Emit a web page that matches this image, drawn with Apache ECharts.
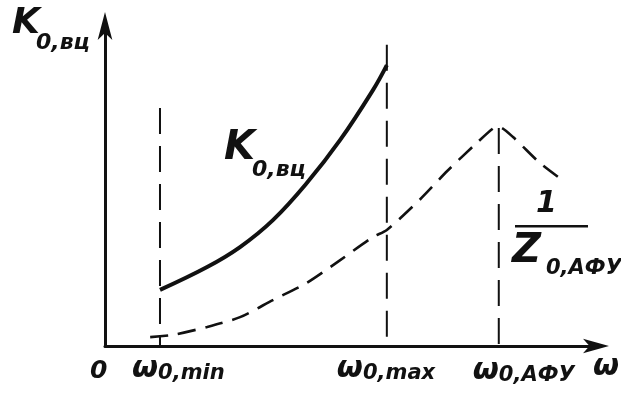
<!DOCTYPE html>
<html>
<head>
<meta charset="utf-8">
<script src="https://cdn.jsdelivr.net/npm/echarts@6/dist/echarts.min.js"></script>
<style>
  html, body { margin: 0; padding: 0; background: #fff; }
  #chart { width: 621px; height: 396px; }
</style>
</head>
<body>
<div id="chart"></div>
<script>
// abscissa positions of the marked frequencies (0..100 scale)
const tickValues = [0, 11.2, 57.4, 80.2, 100]
const tickMain = ['0', 'ω', 'ω', 'ω', 'ω']
const tickSub = ['', '0,min', '0,max', '0,АФУ', '']

// K0,вц — solid curve between ω0,min and ω0,max
const kX = [11.2, 20.8, 27.5, 34.2, 41.1, 47.9, 54.6, 57.4]
const kY = [17.7, 24.9, 31.2, 39.7, 51.4, 65.0, 80.8, 88.6]

// 1 / Z0,АФУ — dashed curve with its peak at ω0,АФУ
const zX = [9.2, 13.8, 20.8, 27.5, 34.2, 41.1, 47.9, 54.6, 57.4, 64.2, 69.7, 75.4, 79.0, 80.2, 83.1, 88.6, 93.7]
const zY = [2.8, 3.5, 6.0, 9.1, 14.5, 19.9, 27.1, 34.4, 36.6, 46.3, 55.2, 63.6, 68.6, 69.1, 65.9, 57.7, 51.7]

// heights of the dashed verticals at ω0,min, ω0,max, ω0,АФУ
const vlineX = [11.2, 57.4, 80.2]
const vlineTop = [75.1, 95.0, 68.8]

const INK = '#111'
const FONT = '"DejaVu Sans"'
const tickDx = [-15, -28, -50, -26, -3]
const tickDy = [12, 8, 8, 10, 6]

const chart = echarts.init(document.getElementById('chart'))

// drawn top-down so the dash pattern starts at the top end
const vlines = vlineX.map((x, i) => ({
  type: 'line',
  data: [[x, vlineTop[i]], [x, 0]],
  symbol: 'none',
  silent: true,
  lineStyle: { color: INK, width: 2, type: [26, 12] },
}))

function fontOf(size) {
  return 'italic bold ' + size + 'px ' + FONT
}

const richBase = { fontFamily: FONT, fontStyle: 'italic', fontWeight: 'bold', color: INK }

chart.setOption({
  animation: false,
  backgroundColor: '#fff',
  grid: { left: 105, right: 25, top: 29, bottom: 50 },
  xAxis: {
    type: 'value', min: 0, max: 100,
    axisLine: { lineStyle: { color: INK, width: 3 }, symbol: ['none', 'arrow'], symbolSize: [11, 26], symbolOffset: [0, 13] },
    axisTick: { show: false }, axisLabel: { show: false }, splitLine: { show: false },
  },
  yAxis: {
    type: 'value', min: 0, max: 100,
    axisLine: { lineStyle: { color: INK, width: 3 }, symbol: ['none', 'arrow'], symbolSize: [11, 28], symbolOffset: [0, 17] },
    axisTick: { show: false }, axisLabel: { show: false }, splitLine: { show: false },
  },
  series: [
    {
      name: 'K0,вц',
      type: 'line',
      data: kX.map((x, i) => [x, kY[i]]),
      smooth: 0.4,
      symbol: 'none',
      lineStyle: { color: INK, width: 4 },
    },
    {
      name: '1/Z0,АФУ',
      type: 'line',
      data: zX.map((x, i) => [x, zY[i]]),
      smooth: 0.25,
      symbol: 'none',
      lineStyle: { color: INK, width: 2.6, type: [18, 10] },
    },
    ...vlines,
    {
      type: 'scatter',
      symbolSize: 1,
      silent: true,
      itemStyle: { opacity: 0 },
      data: tickValues.map((v, i) => ({
        value: [v, 0],
        label: {
          show: true,
          position: 'bottom',
          distance: 0,
          align: 'left',
          color: INK,
          opacity: 1,
          offset: [tickDx[i], tickDy[i]],
          formatter: '{w|' + tickMain[i] + '}' + (tickSub[i] ? '{s|' + tickSub[i] + '}' : ''),
          rich: {
            w: Object.assign({ fontSize: i === 0 ? 25 : 30, lineHeight: 30, verticalAlign: 'top' }, richBase),
            s: Object.assign({ fontSize: 21, lineHeight: 20, padding: [17, 0, 0, 0], verticalAlign: 'bottom' }, richBase),
          },
        },
      })),
    },
  ],
  graphic: [
    { type: 'text', style: { text: 'K', x: 12, y: 24, font: fontOf(36), fill: INK, verticalAlign: 'middle' } },
    { type: 'text', style: { text: '0,вц', x: 36, y: 43, font: fontOf(22), fill: INK, verticalAlign: 'middle' } },
    { type: 'text', style: { text: 'K', x: 224, y: 149, font: fontOf(40), fill: INK, verticalAlign: 'middle' } },
    { type: 'text', style: { text: '0,вц', x: 252, y: 170, font: fontOf(22), fill: INK, verticalAlign: 'middle' } },
    { type: 'text', style: { text: '1', x: 536, y: 204, font: fontOf(30), fill: INK, verticalAlign: 'middle' } },
    { type: 'rect', shape: { x: 515, y: 225, width: 73, height: 2.5 }, style: { fill: INK } },
    { type: 'text', style: { text: 'Z', x: 512, y: 252, font: fontOf(40), fill: INK, verticalAlign: 'middle' } },
    { type: 'text', style: { text: '0,АФУ', x: 546, y: 269, font: fontOf(21), fill: INK, verticalAlign: 'middle' } },
  ],
})
</script>
</body>
</html>
